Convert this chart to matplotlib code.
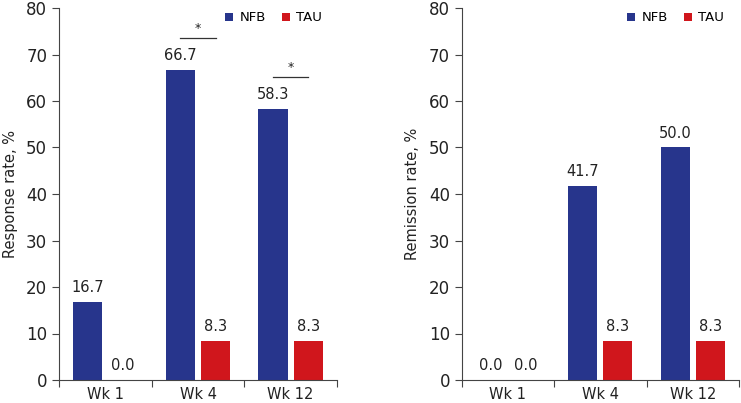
import matplotlib
matplotlib.use("Agg")
import matplotlib.pyplot as plt
import numpy as np

weeks = ["Wk 1", "Wk 4", "Wk 12"]
response_nfb = [16.7, 66.7, 58.3]
response_tau = [0.0, 8.3, 8.3]
remission_nfb = [0.0, 41.7, 50.0]
remission_tau = [0.0, 8.3, 8.3]
yticks = [0, 10, 20, 30, 40, 50, 60, 70, 80]
sig_response = [(1, 73.6), (2, 65.2)]  # (category index, bracket height)

NFB_C = "#27358c"
TAU_C = "#d0161c"
SPINE_C = "#444444"
plt.rcParams["font.family"] = ["DejaVu Sans"]

fig = plt.figure(figsize=(7.41, 4.03), dpi=100)
ax1 = fig.add_axes([59/741, 1-380/403, 278/741, 372/403])
ax2 = fig.add_axes([461.7/741, 1-380/403, 277.3/741, 372/403])

x = np.arange(len(weeks))
w = 0.315
off = 0.19

def draw(ax, nfb, tau, ylabel):
    ax.bar(x - off, nfb, w, color=NFB_C, label="NFB")
    ax.bar(x + off, tau, w, color=TAU_C, label="TAU")
    for xi, v in zip(x - off, nfb):
        ax.annotate(f"{v:.1f}", (xi, v), xytext=(0, 5), textcoords="offset points",
                    ha="center", va="bottom", fontsize=10.5, color="#222222")
    for xi, v in zip(x + off, tau):
        ax.annotate(f"{v:.1f}", (xi, v), xytext=(0, 5), textcoords="offset points",
                    ha="center", va="bottom", fontsize=10.5, color="#222222")
    ax.set_xlim(-0.5, 2.5)
    ax.set_ylim(0, 80)
    ax.set_yticks(yticks)
    ax.set_xticks([-0.5, 0.5, 1.5, 2.5])
    ax.set_xticklabels([])
    ax.set_xticks(x, minor=True)
    ax.set_xticklabels(weeks, minor=True)
    ax.tick_params(axis="x", which="minor", length=0, labelsize=10.5, pad=5, colors="#222222")
    ax.tick_params(axis="x", which="major", length=5, color=SPINE_C)
    ax.tick_params(axis="y", length=5, color=SPINE_C, labelsize=12, labelcolor="#222222")
    for s in ["top", "right"]:
        ax.spines[s].set_visible(False)
    for s in ["left", "bottom"]:
        ax.spines[s].set_color(SPINE_C)
    ax.set_ylabel(ylabel, fontsize=10.5, color="#222222", labelpad=6)
    ax.legend(loc="upper right", ncol=2, frameon=False, fontsize=9.5,
              handlelength=0.6, handleheight=0.6, handletextpad=0.5,
              columnspacing=1.2, bbox_to_anchor=(0.965, 1.005), borderaxespad=0)

draw(ax1, response_nfb, response_tau, "Response rate, %")
draw(ax2, remission_nfb, remission_tau, "Remission rate, %")

for ci, h in sig_response:
    ax1.plot([ci - off, ci + off], [h, h], color="#333333", lw=0.9)
    ax1.text(ci, h + 0.5, "*", ha="center", va="bottom", fontsize=9, color="#222222")

fig.savefig("out.png", dpi=100)
